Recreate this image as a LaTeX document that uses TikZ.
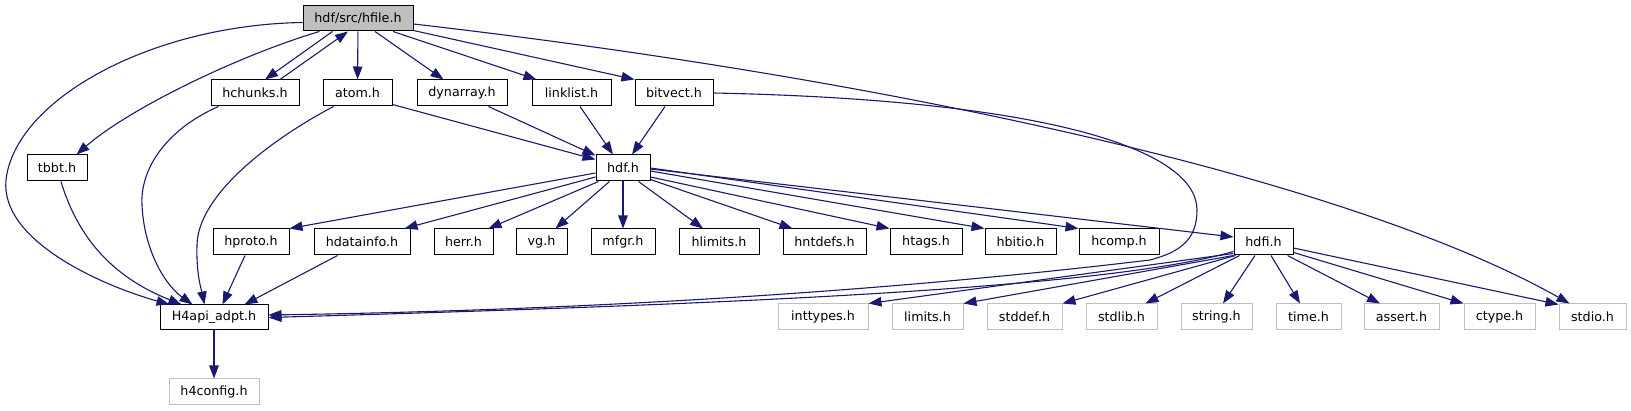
\documentclass[tikz,border=0pt]{standalone}
\usepackage{fontspec}
\setmainfont{DejaVu Sans}
\usetikzlibrary{arrows.meta,calc}
\definecolor{edgecol}{HTML}{191970}
\definecolor{greybd}{HTML}{BFBFBF}
\tikzset{
  box/.style={draw=black, line width=1pt, fill=white, inner sep=0pt, minimum height=26pt,
    font=\fontsize{12.7}{14}\selectfont, text=black},
  sysbox/.style={box, draw=greybd},
  edge/.style={draw=edgecol, line width=1.1pt, -{Triangle[length=13pt,width=9.5pt]}},
}
\begin{document}
\begin{tikzpicture}[x=1pt,y=-1pt]
\useasboundingbox (0,0) rectangle (1631,411);
% nodes
\node[box, fill=greybd, minimum width=110pt, minimum height=25pt] (hfile) at (358,18.5) {hdf/src/hfile.h};
\node[box, minimum width=88pt] (hchunks) at (255,93) {hchunks.h};
\node[box, minimum width=69pt] (atom) at (357.5,93) {atom.h};
\node[box, minimum width=90pt] (dynarray) at (462,93) {dynarray.h};
\node[box, minimum width=79pt] (linklist) at (571.5,93) {linklist.h};
\node[box, minimum width=78pt] (bitvect) at (674,93) {bitvect.h};
\node[box, minimum width=60pt] (tbbt) at (57,168) {tbbt.h};
\node[box, minimum width=54pt] (hdf) at (623,168) {hdf.h};
\node[box, minimum width=76pt] (hproto) at (251,242) {hproto.h};
\node[box, minimum width=96pt] (hdatainfo) at (362,242) {hdatainfo.h};
\node[box, minimum width=59pt] (herr) at (463.5,242) {herr.h};
\node[box, minimum width=51pt] (vg) at (541.5,242) {vg.h};
\node[box, minimum width=64pt] (mfgr) at (623,242) {mfgr.h};
\node[box, minimum width=80pt] (hlimits) at (719,242) {hlimits.h};
\node[box, minimum width=83pt] (hntdefs) at (824.5,242) {hntdefs.h};
\node[box, minimum width=72pt] (htags) at (926,242) {htags.h};
\node[box, minimum width=71pt] (hbitio) at (1020.5,242) {hbitio.h};
\node[box, minimum width=80pt] (hcomp) at (1119,242) {hcomp.h};
\node[box, minimum width=59pt] (hdfi) at (1263.5,242) {hdfi.h};
\node[box, minimum width=108pt, minimum height=25pt] (H4api) at (214,317.5) {H4api\_adpt.h};
\node[sysbox, minimum width=90pt] (h4config) at (214,392) {h4config.h};
\node[sysbox, minimum width=90pt] (inttypes) at (823,317) {inttypes.h};
\node[sysbox, minimum width=71pt] (limits) at (927.5,317) {limits.h};
\node[sysbox, minimum width=75pt] (stddef) at (1024.5,317) {stddef.h};
\node[sysbox, minimum width=71pt] (stdlib) at (1121.5,317) {stdlib.h};
\node[sysbox, minimum width=71pt] (string) at (1216.5,317) {string.h};
\node[sysbox, minimum width=65pt] (time) at (1308.5,317) {time.h};
\node[sysbox, minimum width=75pt] (assert) at (1401.5,317) {assert.h};
\node[sysbox, minimum width=71pt] (ctype) at (1499.5,317) {ctype.h};
\node[sysbox, minimum width=67pt] (stdio) at (1592.5,317) {stdio.h};
% edges from hfile
\draw[edge] ($(hfile.west)+(0,4)$) .. controls (150,25) and (15,100) .. (6,180) .. controls (0,240) and (100,285) .. ($(H4api.north west)+(10,0)$);
\draw[edge] ($(hfile.south west)+(17,0)$) .. controls (240,55) and (130,108) .. ($(tbbt.north west)+(50,0)$);
\draw[edge] ($(hfile.south west)+(30,0)$) -- ($(hchunks.north)+(10,0)$);
\draw[edge] ($(hchunks.north)+(25,0)$) -- ($(hfile.south)+(-10,0)$);
\draw[edge] (hfile) -- (atom);
\draw[edge] ($(hfile.south)+(17,0)$) -- ($(dynarray.north west)+(27,0)$);
\draw[edge] ($(hfile.south)+(35,0)$) -- ($(linklist.north west)+(5,0)$);
\draw[edge] ($(hfile.south east)+(0,-1)$) -- (bitvect.north west);
\draw[edge] ($(hfile.east)+(0,5.5)$) .. controls (900,80) and (1350,180) .. ($(stdio.north west)+(11,0)$);
% into H4api
\draw[edge] ($(tbbt.south)+(4,0)$) .. controls (80,245) and (120,280) .. ($(H4api.north west)+(22,0)$);
\draw[edge] ($(hchunks.south west)+(8,0)$) .. controls (165,130) and (140,170) .. (142,205) .. controls (144,250) and (165,285) .. ($(H4api.north west)+(33,0)$);
\draw[edge] ($(atom.south west)+(11,0)$) .. controls (270,140) and (198,195) .. (197,245) .. controls (196,275) and (202,292) .. ($(H4api.north west)+(45,0)$);
\draw[edge] ($(hproto.south)+(-6,0)$) -- ($(H4api.north west)+(63,0)$);
\draw[edge] ($(hdatainfo.south west)+(24,0)$) -- ($(H4api.north west)+(85,0)$);
\draw[edge] (bitvect.east) .. controls (1050,100) and (1197,150) .. (1197,210) .. controls (1197,240) and (1180,252) .. (1150,260) .. controls (900,290) and (600,310) .. ($(H4api.east)+(0,-2.5)$);
\draw[edge] ($(hdfi.south west)+(0,-4)$) .. controls (1100,290) and (700,305) .. (H4api.east);
\draw[edge] (H4api) -- (h4config);
% into hdf
\draw[edge] ($(atom.south east)+(0,-2)$) -- ($(hdf.north west)+(0,5)$);
\draw[edge] ($(dynarray.south east)+(-19,0)$) -- ($(hdf.north west)+(0,1)$);
\draw[edge] ($(linklist.south)+(8.5,0)$) -- ($(hdf.north)+(-10,0)$);
\draw[edge] ($(bitvect.south)+(-9,0)$) -- ($(hdf.north)+(9,0)$);
% from hdf
\draw[edge] ($(hdf.west)+(0,5)$) -- (hproto.north east);
\draw[edge] ($(hdf.west)+(0,9)$) -- ($(hdatainfo.north east)+(-6,0)$);
\draw[edge] ($(hdf.south west)+(3,0)$) -- ($(herr.north east)+(-5,0)$);
\draw[edge] ($(hdf.south west)+(14,0)$) -- ($(vg.north east)+(-12,0)$);
\draw[edge] (hdf) -- (mfgr);
\draw[edge] ($(hdf.south east)+(-12,0)$) -- ($(hlimits.north)+(-16,0)$);
\draw[edge] ($(hdf.south east)+(0,-2)$) -- ($(hntdefs.north west)+(10,0)$);
\draw[edge] ($(hdf.east)+(0,9)$) -- (htags.north west);
\draw[edge] ($(hdf.east)+(0,3)$) -- (hbitio.north west);
\draw[edge] ($(hdf.east)+(0,0)$) -- (hcomp.north west);
\draw[edge] ($(hdf.east)+(0,1)$) -- ($(hdfi.west)+(0,-5)$);
% from hdfi
\draw[edge] ($(hdfi.south west)+(0,-2)$) -- (inttypes.north east);
\draw[edge] (hdfi.south west) -- (limits.north east);
\draw[edge] ($(hdfi.south west)+(2,0)$) -- (stddef.north east);
\draw[edge] ($(hdfi.south west)+(6,0)$) -- ($(stdlib.north east)+(-12,0)$);
\draw[edge] ($(hdfi.south)+(-8.5,0)$) -- ($(string.north)+(6.5,0)$);
\draw[edge] ($(hdfi.south)+(7.5,0)$) -- ($(time.north)+(-8.5,0)$);
\draw[edge] ($(hdfi.south east)+(-6,0)$) -- ($(assert.north)+(-21.5,0)$);
\draw[edge] ($(hdfi.south east)+(0,-3)$) -- (ctype.north west);
\draw[edge] ($(hdfi.east)+(0,6)$) -- ($(stdio.north west)+(0,1)$);
\end{tikzpicture}
\end{document}
